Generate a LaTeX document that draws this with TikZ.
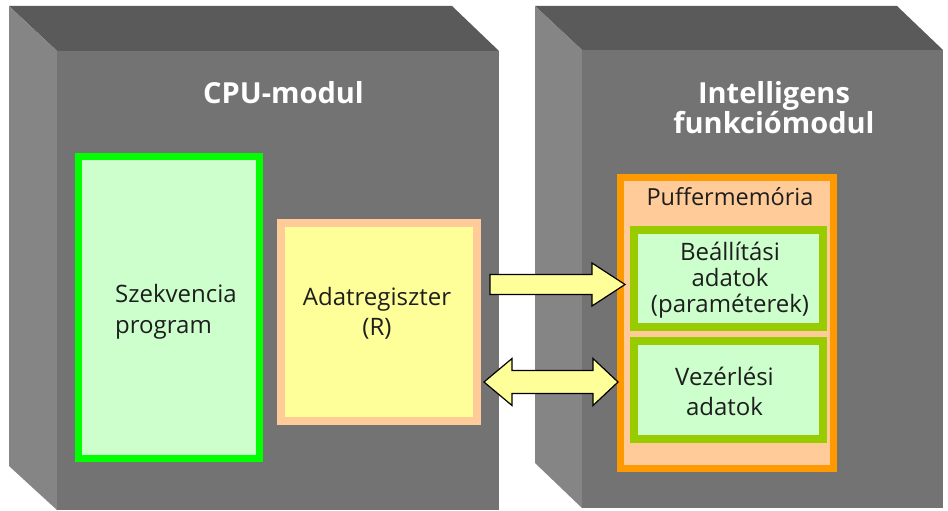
\documentclass[tikz,border=0pt]{standalone}
\usepackage{fontspec}
\setmainfont{Open Sans}
\definecolor{topface}{HTML}{5A5A5A}
\definecolor{sideface}{HTML}{858585}
\definecolor{frontface}{HTML}{737373}
\definecolor{seqgreen}{HTML}{00FF00}
\definecolor{palegreen}{HTML}{CCFFCC}
\definecolor{peach}{HTML}{FFCC99}
\definecolor{paleyellow}{HTML}{FFFF99}
\definecolor{bufforange}{HTML}{FF9900}
\definecolor{olivegreen}{HTML}{99CC00}
\definecolor{inktext}{HTML}{1E1E1E}
\begin{document}
\begin{tikzpicture}[x=1pt,y=-1pt,
  front/.style={rectangle, fill=frontface, inner sep=0pt, outer sep=0pt, anchor=north west},
  framed/.style={rectangle, inner sep=0pt, outer sep=0pt},
  title/.style={text=white, font=\fontsize{29}{30}\selectfont\bfseries, inner sep=0pt},
  body/.style={text=inktext, inner sep=0pt},
  blockarrow/.style={fill=paleyellow, draw=black, line width=1.2pt, line join=miter}
]
\useasboundingbox (0,0) rectangle (948,511);
\fill[white] (0,0) rectangle (948,511);

% CPU module: top face, left face, front face
\fill[topface] (9,6) -- (452,6) -- (499,51) -- (57,51) -- cycle;
\fill[sideface] (9,6) -- (57,51) -- (57,510) -- (9,466) -- cycle;
\node[front, minimum width=442pt, minimum height=459pt] (cpu) at (57,51) {};

% intelligent function module
\fill[topface] (535,6) -- (897,6) -- (943,50) -- (582,50) -- cycle;
\fill[sideface] (535,6) -- (582,50) -- (582,508) -- (535,463) -- cycle;
\node[front, minimum width=361pt, minimum height=458pt] (ifm) at (582,50) {};

% titles (base anchor of a multi-line node = baseline of its last line)
\node[title, anchor=base] (cputitle) at (283.5,103) {CPU-modul};
\node[title, anchor=base, align=center] (ifmtitle) at (774,133) {Intelligens\\funkciómodul};

% inner blocks of the CPU module
\node[framed, draw=seqgreen, fill=palegreen, line width=7pt,
      minimum width=181pt, minimum height=302pt] (seq) at (169,307.5) {};
\node[framed, draw=peach, fill=paleyellow, line width=8pt,
      minimum width=196pt, minimum height=198pt] (reg) at (379,322) {};

% buffer memory and its areas
\node[framed, draw=bufforange, fill=peach, line width=7pt,
      minimum width=213pt, minimum height=291pt] (buf) at (727,323) {};
\node[framed, draw=olivegreen, fill=palegreen, line width=8pt,
      minimum width=189pt, minimum height=97pt] (param) at (728.5,278.5) {};
\node[framed, draw=olivegreen, fill=palegreen, line width=8pt,
      minimum width=189pt, minimum height=98pt] (ctrl) at (728.5,390) {};

% texts
\node[body, anchor=base west, align=left, font=\fontsize{24}{31}\selectfont]
  (seqtext) at (115,333) {Szekvencia\\program};
\node[body, anchor=base, align=center, font=\fontsize{24}{30}\selectfont]
  (regtext) at (377,335) {Adatregiszter\\(R)};
\node[body, anchor=base, font=\fontsize{23.5}{27}\selectfont]
  (buftext) at (730,205) {Puffermemória};
\node[body, anchor=base, align=center, font=\fontsize{24}{26}\selectfont]
  (paramtext) at (730,312) {Beállítási\\adatok\\(paraméterek)};
\node[body, anchor=base, align=center, font=\fontsize{24}{30}\selectfont]
  (ctrltext) at (724.5,415) {Vezérlési\\adatok};

% data flow: register -> parameters, register <-> control data
\coordinate (wtail) at (490,284.5);
\coordinate (wtip) at (625,284.5);
\draw[blockarrow] (wtail) ++(0,-10) -- ++(102,0) -- ++(0,-11.5) -- (wtip)
  -- ++(-33,21.5) -- ++(0,-11.5) -- ++(-102,0) -- cycle;

\coordinate (dleft) at (484,382);
\coordinate (dright) at (618,382);
\draw[blockarrow] (dleft) -- ++(28,-23.5) -- ++(0,12) -- ++(81,0) -- ++(0,-12)
  -- (dright) -- ++(-25,23.5) -- ++(0,-12) -- ++(-81,0) -- ++(0,12) -- cycle;
\end{tikzpicture}
\end{document}
